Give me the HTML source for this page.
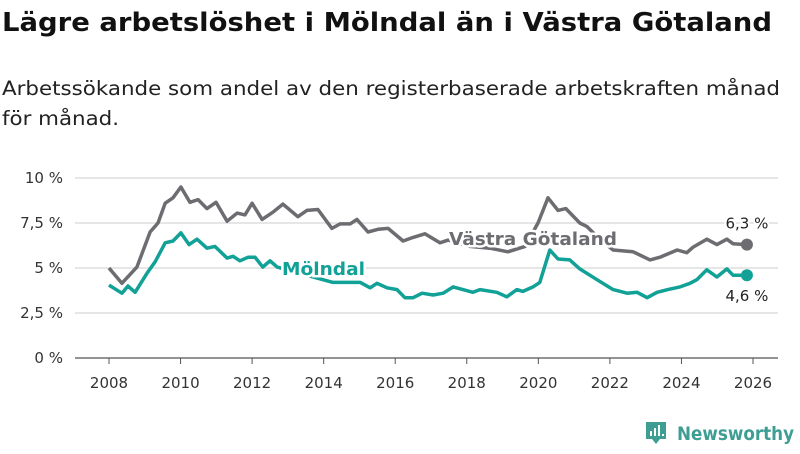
<!DOCTYPE html>
<html><head><meta charset="utf-8">
<style>
body{margin:0;background:#fff;width:800px;height:450px;overflow:hidden;font-family:"DejaVu Sans","Liberation Sans",sans-serif;}
</style></head>
<body>
<svg width="800" height="450" viewBox="0 0 800 450" xmlns="http://www.w3.org/2000/svg" font-family="DejaVu Sans, Liberation Sans, sans-serif">
<text x="2" y="31" font-size="26" font-weight="bold" fill="#111" textLength="770" lengthAdjust="spacingAndGlyphs">Lägre arbetslöshet i Mölndal än i Västra Götaland</text>
<text x="2" y="95" font-size="19.5" fill="#222" textLength="778" lengthAdjust="spacingAndGlyphs">Arbetssökande som andel av den registerbaserade arbetskraften månad</text>
<text x="2" y="125" font-size="19.5" fill="#222" textLength="117" lengthAdjust="spacingAndGlyphs">för månad.</text>
<g id="grid"></g>
<g id="xaxis"></g>
<g id="lines"></g>
<g id="labels"></g>
<g>
<path d="M646 422 h20 v17 h-6 l-4 5 l-4 -5 h-6 z" fill="#3f9e94"/>
<rect x="650" y="431" width="2" height="5" fill="#fff"/><rect x="654" y="428" width="2" height="8" fill="#fff"/><rect x="658" y="425" width="2" height="11" fill="#fff"/><rect x="662" y="434" width="2" height="2" fill="#fff"/>
<text x="677" y="440" font-size="19" font-weight="bold" fill="#3f9e94" textLength="117" lengthAdjust="spacingAndGlyphs">Newsworthy</text>
</g>
</svg>
<script>
const yTicks=[0,2.5,5,7.5,10];
const yTickLabels=["0 %","2,5 %","5 %","7,5 %","10 %"];
const xTicks=[2008,2010,2012,2014,2016,2018,2020,2022,2024,2026];
const vgDates=[2008.0,2008.36,2008.78,2009.15,2009.37,2009.57,2009.79,2010.01,2010.26,2010.49,2010.74,2010.99,2011.3,2011.58,2011.8,2012.0,2012.28,2012.58,2012.86,2013.28,2013.53,2013.84,2014.23,2014.46,2014.74,2014.93,2015.24,2015.52,2015.8,2016.22,2016.5,2016.83,2017.25,2017.48,2018.09,2018.65,2019.15,2019.63,2019.99,2020.27,2020.55,2020.77,2021.16,2021.36,2021.72,2022.09,2022.65,2023.12,2023.4,2023.88,2024.15,2024.32,2024.71,2024.99,2025.27,2025.44,2025.83];
const vgValues=[5.0,4.15,5.05,7.0,7.5,8.6,8.9,9.5,8.65,8.8,8.3,8.65,7.6,8.05,7.95,8.6,7.7,8.1,8.55,7.85,8.2,8.25,7.2,7.45,7.45,7.7,7.0,7.15,7.2,6.5,6.7,6.9,6.4,6.55,6.2,6.1,5.9,6.2,7.5,8.9,8.2,8.3,7.5,7.3,6.6,6.0,5.9,5.45,5.6,6.0,5.85,6.15,6.6,6.3,6.6,6.35,6.3];
const moDates=[2008.0,2008.36,2008.53,2008.73,2009.06,2009.29,2009.57,2009.79,2010.01,2010.24,2010.46,2010.74,2010.96,2011.3,2011.47,2011.66,2011.89,2012.08,2012.3,2012.5,2012.7,2013.34,2014.26,2015.02,2015.3,2015.49,2015.77,2016.05,2016.27,2016.5,2016.75,2017.06,2017.34,2017.62,2018.17,2018.37,2018.84,2019.12,2019.4,2019.57,2019.85,2020.04,2020.32,2020.55,2020.88,2021.16,2021.64,2022.09,2022.48,2022.76,2023.04,2023.32,2023.62,2023.96,2024.24,2024.43,2024.71,2024.99,2025.27,2025.44,2025.83];
const moValues=[4.05,3.6,4.0,3.65,4.7,5.35,6.4,6.5,6.95,6.3,6.6,6.1,6.2,5.55,5.65,5.4,5.6,5.6,5.05,5.4,5.05,4.7,4.2,4.2,3.9,4.15,3.9,3.8,3.35,3.35,3.6,3.5,3.6,3.95,3.65,3.8,3.65,3.4,3.8,3.7,3.95,4.2,6.0,5.5,5.45,4.95,4.35,3.8,3.6,3.65,3.35,3.65,3.8,3.95,4.15,4.35,4.9,4.5,4.95,4.6,4.6];

const NS="http://www.w3.org/2000/svg";
const X=d=>109+(d-2008)*(753-109)/18;
const Y=v=>358-v*18;
function mk(tag,attrs,parent,txt){const e=document.createElementNS(NS,tag);for(const k in attrs)e.setAttribute(k,attrs[k]);if(txt!==undefined)e.textContent=txt;document.getElementById(parent).appendChild(e);return e;}

yTicks.forEach((t,i)=>{
  const l=mk('line',{x1:75,x2:778,y1:Y(t),y2:Y(t),stroke:t===0?'#555':'#ddd','stroke-width':t===0?1.2:1.5},'grid');
  
  
  const tx=mk('text',{x:63,y:Y(t)+5,'text-anchor':'end','font-size':15,fill:'#333'},'grid',yTickLabels[i]);
  
  
});
xTicks.forEach(t=>{
  const l=mk('line',{x1:X(t),x2:X(t),y1:358,y2:364,stroke:'#555','stroke-width':1},'xaxis');
  
  
  const tx=mk('text',{x:X(t),y:388,'text-anchor':'middle','font-size':15,fill:'#333'},'xaxis',String(t));
  
  
});
function path(dates,vals){return dates.map((d,i)=>(i?'L':'M')+X(d).toFixed(1)+' '+Y(vals[i]).toFixed(1)).join(' ');}
const p1=mk('path',{d:path(vgDates,vgValues),fill:'none',stroke:'#6d6c71','stroke-width':3.5,'stroke-linejoin':'round'},'lines');


const p2=mk('path',{d:path(moDates,moValues),fill:'none',stroke:'#11a196','stroke-width':3.5,'stroke-linejoin':'round'},'lines');


const lv=vgValues.length-1, lm=moValues.length-1;
const c1=mk('circle',{cx:X(vgDates[lv]),cy:Y(vgValues[lv]),r:6,fill:'#6d6c71'},'lines');


const c2=mk('circle',{cx:X(moDates[lm]),cy:Y(moValues[lm]),r:6,fill:'#11a196'},'lines');


const v1=mk('text',{x:X(vgDates[lv]),y:Y(vgValues[lv])-16,'text-anchor':'middle','font-size':15,fill:'#222',stroke:'#fff','stroke-width':4,'paint-order':'stroke'},'labels',String(vgValues[lv]).replace('.',',')+' %');


const v2=mk('text',{x:X(moDates[lm]),y:Y(moValues[lm])+26,'text-anchor':'middle','font-size':15,fill:'#222',stroke:'#fff','stroke-width':4,'paint-order':'stroke'},'labels',String(moValues[lm]).replace('.',',')+' %');


const s1=mk('text',{x:449,y:245,'font-size':18,'font-weight':'bold',fill:'#6d6c71',stroke:'#fff','stroke-width':5,'paint-order':'stroke',textLength:168,lengthAdjust:'spacingAndGlyphs'},'labels','Västra Götaland');


const s2=mk('text',{x:282,y:275,'font-size':18,'font-weight':'bold',fill:'#11a196',stroke:'#fff','stroke-width':5,'paint-order':'stroke',textLength:83,lengthAdjust:'spacingAndGlyphs'},'labels','Mölndal');


</script>
</body></html>
